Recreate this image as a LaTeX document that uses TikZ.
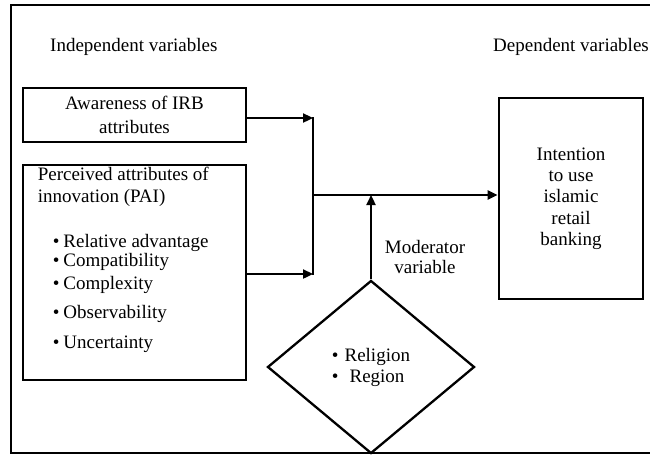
\documentclass[tikz,border=0pt]{standalone}
\usepackage{fontspec}
\setmainfont{Liberation Serif}
\usetikzlibrary{shapes.geometric,arrows.meta,positioning}

\begin{document}
\begin{tikzpicture}[x=1pt,y=-1pt,
  font=\fontsize{19}{24}\selectfont,
  box/.style={rectangle,draw,line width=2.8pt,align=center,inner sep=0pt},
  arr/.style={-{Triangle[length=10pt,width=9pt]},line width=2.3pt},
  link/.style={line width=2.3pt,line cap=rect}]
  \clip (0,0) rectangle (650,455);
  \draw[line width=2.4pt] (11,5) rectangle (690,453);
  % headings
  \node[anchor=west,inner sep=0pt] (indep) at (50,47) {Independent variables};
  \node[anchor=east,inner sep=0pt] (dep) at (649,47) {Dependent variables};
  % independent side
  \node[box,minimum width=223pt,minimum height=54pt] (aware) at (134.5,115) {Awareness of IRB\\attributes};
  \node[box,minimum width=223pt,minimum height=215pt] (pai) at (134.5,272.5) {};
  \node[anchor=north west,align=left,inner sep=0pt] (pailist) at ([xshift=16pt,yshift=-3pt]pai.north west)
    {Perceived attributes of\\[-2pt]
     innovation (PAI)\\[21pt]
     \hspace*{15pt}\textbullet\hspace{4pt}Relative advantage\\[-5pt]
     \hspace*{15pt}\textbullet\hspace{4pt}Compatibility\\[-1pt]
     \hspace*{15pt}\textbullet\hspace{4pt}Complexity\\[5pt]
     \hspace*{15pt}\textbullet\hspace{4pt}Observability\\[6pt]
     \hspace*{15pt}\textbullet\hspace{4pt}Uncertainty};
  % moderator and outcome
  \node[draw,diamond,line width=2.3pt,minimum width=207pt,minimum height=173pt,align=left,inner sep=0pt] (mod) at (371,367)
    {\textbullet\hspace{6pt}Religion\\[-3pt]\textbullet\hspace{11pt}Region};
  \node[align=center,inner sep=0pt] (modlbl) at (425,257) {Moderator\\[-4pt]variable};
  \node[box,minimum width=144pt,minimum height=201pt] (intent) at (571,198.5)
    {Intention\\[-2.7pt]to use\\[-2.7pt]islamic\\[-2.7pt]retail\\[-2.7pt]banking};
  % connectors
  \coordinate (jt) at (313,118);
  \coordinate (jm) at (313,195);
  \coordinate (jb) at (313,274);
  \draw[arr] (aware.east |- jt) -- (jt);
  \draw[arr] (pai.east |- jb) -- (jb);
  \draw[link] (jt) -- (jb);
  \draw[arr] (jm) -- (intent.west |- jm);
  \draw[arr] (mod.north) -- (mod.north |- jm);
\end{tikzpicture}
\end{document}
